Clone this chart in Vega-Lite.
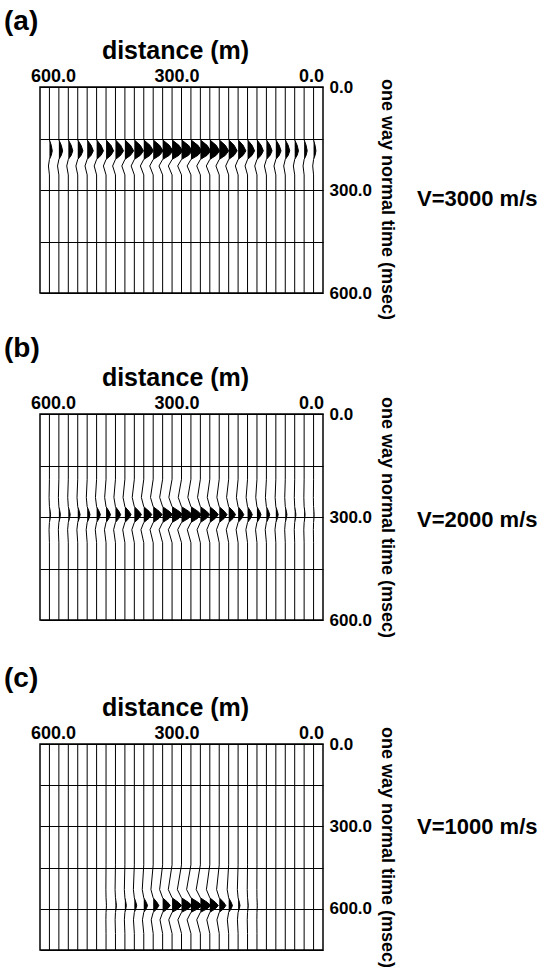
{
"$schema": "https://vega.github.io/schema/vega-lite/v6.json",
"padding": {"left": 3, "top": 7, "right": 5, "bottom": 3},
"background": "white",
"config": {
  "font": "Liberation Sans",
  "view": {"stroke": "black", "strokeWidth": 1.5},
  "axis": {"domain": false, "ticks": false, "grid": false, "labelFontWeight": "bold", "titleFontWeight": "bold", "labelColor": "black", "titleColor": "black", "labelFontSize": 18, "labelFont": "Liberation Sans", "titleFont": "Liberation Sans"},
  "title": {"fontWeight": "bold", "color": "black", "font": "Liberation Sans"}
},
"datasets": {
"a": [
{"d":20,"t":0,"x":20},{"d":20,"t":154,"x":20,"l":1},{"d":20,"t":170,"x":16.8,"l":1},{"d":20,"t":186,"x":15,"l":1},{"d":20,"t":199,"x":16.8,"l":1},{"d":20,"t":211,"x":20,"l":1},{"d":20,"t":230,"x":21.8},{"d":20,"t":256,"x":20},{"d":20,"t":600,"x":20},
{"d":40,"t":0,"x":40},{"d":40,"t":154,"x":40,"l":1},{"d":40,"t":170,"x":35.8,"l":1},{"d":40,"t":186,"x":33.5,"l":1},{"d":40,"t":199,"x":35.8,"l":1},{"d":40,"t":211,"x":40,"l":1},{"d":40,"t":230,"x":42.3},{"d":40,"t":256,"x":40},{"d":40,"t":600,"x":40},
{"d":60,"t":0,"x":60},{"d":60,"t":154,"x":60,"l":1},{"d":60,"t":170,"x":54.8,"l":1},{"d":60,"t":186,"x":52,"l":1},{"d":60,"t":199,"x":54.8,"l":1},{"d":60,"t":211,"x":60,"l":1},{"d":60,"t":230,"x":62.8},{"d":60,"t":256,"x":60},{"d":60,"t":600,"x":60},
{"d":80,"t":0,"x":80},{"d":80,"t":154,"x":80,"l":1},{"d":80,"t":170,"x":73.8,"l":1},{"d":80,"t":186,"x":70.5,"l":1},{"d":80,"t":199,"x":73.8,"l":1},{"d":80,"t":211,"x":80,"l":1},{"d":80,"t":230,"x":83.3},{"d":80,"t":256,"x":80},{"d":80,"t":600,"x":80},
{"d":100,"t":0,"x":100},{"d":100,"t":154,"x":100,"l":1},{"d":100,"t":170,"x":92.8,"l":1},{"d":100,"t":186,"x":89,"l":1},{"d":100,"t":199,"x":92.8,"l":1},{"d":100,"t":211,"x":100,"l":1},{"d":100,"t":230,"x":103.9},{"d":100,"t":256,"x":100},{"d":100,"t":600,"x":100},
{"d":120,"t":0,"x":120},{"d":120,"t":154,"x":120,"l":1},{"d":120,"t":170,"x":112.2,"l":1},{"d":120,"t":186,"x":108,"l":1},{"d":120,"t":199,"x":112.2,"l":1},{"d":120,"t":211,"x":120,"l":1},{"d":120,"t":230,"x":124.2},{"d":120,"t":256,"x":120},{"d":120,"t":600,"x":120},
{"d":140,"t":0,"x":140},{"d":140,"t":154,"x":140,"l":1},{"d":140,"t":170,"x":131.2,"l":1},{"d":140,"t":186,"x":126.5,"l":1},{"d":140,"t":199,"x":131.2,"l":1},{"d":140,"t":211,"x":140,"l":1},{"d":140,"t":230,"x":144.7},{"d":140,"t":256,"x":140},{"d":140,"t":600,"x":140},
{"d":160,"t":0,"x":160},{"d":160,"t":154,"x":160,"l":1},{"d":160,"t":170,"x":150.3,"l":1},{"d":160,"t":186,"x":145,"l":1},{"d":160,"t":199,"x":150.3,"l":1},{"d":160,"t":211,"x":160,"l":1},{"d":160,"t":230,"x":165.3},{"d":160,"t":256,"x":160},{"d":160,"t":600,"x":160},
{"d":180,"t":0,"x":180},{"d":180,"t":154,"x":180,"l":1},{"d":180,"t":170,"x":169.3,"l":1},{"d":180,"t":186,"x":163.5,"l":1},{"d":180,"t":199,"x":169.3,"l":1},{"d":180,"t":211,"x":180,"l":1},{"d":180,"t":230,"x":185.8},{"d":180,"t":256,"x":180},{"d":180,"t":600,"x":180},
{"d":200,"t":0,"x":200},{"d":200,"t":154,"x":200,"l":1},{"d":200,"t":170,"x":188.3,"l":1},{"d":200,"t":186,"x":182,"l":1},{"d":200,"t":199,"x":188.3,"l":1},{"d":200,"t":211,"x":200,"l":1},{"d":200,"t":230,"x":206.3},{"d":200,"t":256,"x":200},{"d":200,"t":600,"x":200},
{"d":220,"t":0,"x":220},{"d":220,"t":154,"x":220,"l":1},{"d":220,"t":170,"x":207,"l":1},{"d":220,"t":186,"x":200,"l":1},{"d":220,"t":199,"x":207,"l":1},{"d":220,"t":211,"x":220,"l":1},{"d":220,"t":230,"x":227},{"d":220,"t":256,"x":220},{"d":220,"t":600,"x":220},
{"d":240,"t":0,"x":240},{"d":240,"t":154,"x":240,"l":1},{"d":240,"t":170,"x":226.4,"l":1},{"d":240,"t":186,"x":219,"l":1},{"d":240,"t":199,"x":226.4,"l":1},{"d":240,"t":211,"x":240,"l":1},{"d":240,"t":230,"x":247.4},{"d":240,"t":256,"x":240},{"d":240,"t":600,"x":240},
{"d":260,"t":0,"x":260},{"d":260,"t":154,"x":260,"l":1},{"d":260,"t":170,"x":245.7,"l":1},{"d":260,"t":186,"x":238,"l":1},{"d":260,"t":199,"x":245.7,"l":1},{"d":260,"t":211,"x":260,"l":1},{"d":260,"t":230,"x":267.7},{"d":260,"t":256,"x":260},{"d":260,"t":600,"x":260},
{"d":280,"t":0,"x":280},{"d":280,"t":154,"x":280,"l":1},{"d":280,"t":170,"x":265.1,"l":1},{"d":280,"t":186,"x":257,"l":1},{"d":280,"t":199,"x":265.1,"l":1},{"d":280,"t":211,"x":280,"l":1},{"d":280,"t":230,"x":288.1},{"d":280,"t":256,"x":280},{"d":280,"t":600,"x":280},
{"d":300,"t":0,"x":300},{"d":300,"t":154,"x":300,"l":1},{"d":300,"t":170,"x":285.1,"l":1},{"d":300,"t":186,"x":277,"l":1},{"d":300,"t":199,"x":285.1,"l":1},{"d":300,"t":211,"x":300,"l":1},{"d":300,"t":230,"x":308.1},{"d":300,"t":256,"x":300},{"d":300,"t":600,"x":300},
{"d":320,"t":0,"x":320},{"d":320,"t":154,"x":320,"l":1},{"d":320,"t":170,"x":305.4,"l":1},{"d":320,"t":186,"x":297.5,"l":1},{"d":320,"t":199,"x":305.4,"l":1},{"d":320,"t":211,"x":320,"l":1},{"d":320,"t":230,"x":327.9},{"d":320,"t":256,"x":320},{"d":320,"t":600,"x":320},
{"d":340,"t":0,"x":340},{"d":340,"t":154,"x":340,"l":1},{"d":340,"t":170,"x":325.7,"l":1},{"d":340,"t":186,"x":318,"l":1},{"d":340,"t":199,"x":325.7,"l":1},{"d":340,"t":211,"x":340,"l":1},{"d":340,"t":230,"x":347.7},{"d":340,"t":256,"x":340},{"d":340,"t":600,"x":340},
{"d":360,"t":0,"x":360},{"d":360,"t":154,"x":360,"l":1},{"d":360,"t":170,"x":346.4,"l":1},{"d":360,"t":186,"x":339,"l":1},{"d":360,"t":199,"x":346.4,"l":1},{"d":360,"t":211,"x":360,"l":1},{"d":360,"t":230,"x":367.4},{"d":360,"t":256,"x":360},{"d":360,"t":600,"x":360},
{"d":380,"t":0,"x":380},{"d":380,"t":154,"x":380,"l":1},{"d":380,"t":170,"x":366.7,"l":1},{"d":380,"t":186,"x":359.5,"l":1},{"d":380,"t":199,"x":366.7,"l":1},{"d":380,"t":211,"x":380,"l":1},{"d":380,"t":230,"x":387.2},{"d":380,"t":256,"x":380},{"d":380,"t":600,"x":380},
{"d":400,"t":0,"x":400},{"d":400,"t":154,"x":400,"l":1},{"d":400,"t":170,"x":387.3,"l":1},{"d":400,"t":186,"x":380.5,"l":1},{"d":400,"t":199,"x":387.3,"l":1},{"d":400,"t":211,"x":400,"l":1},{"d":400,"t":230,"x":406.8},{"d":400,"t":256,"x":400},{"d":400,"t":600,"x":400},
{"d":420,"t":0,"x":420},{"d":420,"t":154,"x":420,"l":1},{"d":420,"t":170,"x":408,"l":1},{"d":420,"t":186,"x":401.5,"l":1},{"d":420,"t":199,"x":408,"l":1},{"d":420,"t":211,"x":420,"l":1},{"d":420,"t":230,"x":426.5},{"d":420,"t":256,"x":420},{"d":420,"t":600,"x":420},
{"d":440,"t":0,"x":440},{"d":440,"t":154,"x":440,"l":1},{"d":440,"t":170,"x":429,"l":1},{"d":440,"t":186,"x":423,"l":1},{"d":440,"t":199,"x":429,"l":1},{"d":440,"t":211,"x":440,"l":1},{"d":440,"t":230,"x":446},{"d":440,"t":256,"x":440},{"d":440,"t":600,"x":440},
{"d":460,"t":0,"x":460},{"d":460,"t":154,"x":460,"l":1},{"d":460,"t":170,"x":449.6,"l":1},{"d":460,"t":186,"x":444,"l":1},{"d":460,"t":199,"x":449.6,"l":1},{"d":460,"t":211,"x":460,"l":1},{"d":460,"t":230,"x":465.6},{"d":460,"t":256,"x":460},{"d":460,"t":600,"x":460},
{"d":480,"t":0,"x":480},{"d":480,"t":154,"x":480,"l":1},{"d":480,"t":170,"x":470.6,"l":1},{"d":480,"t":186,"x":465.5,"l":1},{"d":480,"t":199,"x":470.6,"l":1},{"d":480,"t":211,"x":480,"l":1},{"d":480,"t":230,"x":485.1},{"d":480,"t":256,"x":480},{"d":480,"t":600,"x":480},
{"d":500,"t":0,"x":500},{"d":500,"t":154,"x":500,"l":1},{"d":500,"t":170,"x":491.6,"l":1},{"d":500,"t":186,"x":487,"l":1},{"d":500,"t":199,"x":491.6,"l":1},{"d":500,"t":211,"x":500,"l":1},{"d":500,"t":230,"x":504.6},{"d":500,"t":256,"x":500},{"d":500,"t":600,"x":500},
{"d":520,"t":0,"x":520},{"d":520,"t":154,"x":520,"l":1},{"d":520,"t":170,"x":512.9,"l":1},{"d":520,"t":186,"x":509,"l":1},{"d":520,"t":199,"x":512.9,"l":1},{"d":520,"t":211,"x":520,"l":1},{"d":520,"t":230,"x":523.9},{"d":520,"t":256,"x":520},{"d":520,"t":600,"x":520},
{"d":540,"t":0,"x":540},{"d":540,"t":154,"x":540,"l":1},{"d":540,"t":170,"x":533.8,"l":1},{"d":540,"t":186,"x":530.5,"l":1},{"d":540,"t":199,"x":533.8,"l":1},{"d":540,"t":211,"x":540,"l":1},{"d":540,"t":230,"x":543.3},{"d":540,"t":256,"x":540},{"d":540,"t":600,"x":540},
{"d":560,"t":0,"x":560},{"d":560,"t":154,"x":560,"l":1},{"d":560,"t":170,"x":554.8,"l":1},{"d":560,"t":186,"x":552,"l":1},{"d":560,"t":199,"x":554.8,"l":1},{"d":560,"t":211,"x":560,"l":1},{"d":560,"t":230,"x":562.8},{"d":560,"t":256,"x":560},{"d":560,"t":600,"x":560},
{"d":580,"t":0,"x":580},{"d":580,"t":154,"x":580,"l":1},{"d":580,"t":170,"x":576.1,"l":1},{"d":580,"t":186,"x":574,"l":1},{"d":580,"t":199,"x":576.1,"l":1},{"d":580,"t":211,"x":580,"l":1},{"d":580,"t":230,"x":582.1},{"d":580,"t":256,"x":580},{"d":580,"t":600,"x":580}
],
"b": [
{"d":20,"t":0,"x":20},{"d":20,"t":190,"x":20},{"d":20,"t":243,"x":20.4},{"d":20,"t":270,"x":20,"l":1},{"d":20,"t":283,"x":19.2,"l":1},{"d":20,"t":293,"x":18.8,"l":1},{"d":20,"t":304,"x":19.2,"l":1},{"d":20,"t":316,"x":20,"l":1},{"d":20,"t":337,"x":20.4},{"d":20,"t":375,"x":20},{"d":20,"t":600,"x":20},
{"d":40,"t":0,"x":40},{"d":40,"t":190,"x":40},{"d":40,"t":243,"x":40.6},{"d":40,"t":270,"x":40,"l":1},{"d":40,"t":283,"x":38.7,"l":1},{"d":40,"t":293,"x":38,"l":1},{"d":40,"t":304,"x":38.7,"l":1},{"d":40,"t":316,"x":40,"l":1},{"d":40,"t":337,"x":40.7},{"d":40,"t":375,"x":40},{"d":40,"t":600,"x":40},
{"d":60,"t":0,"x":60},{"d":60,"t":190,"x":60},{"d":60,"t":243,"x":60.8},{"d":60,"t":270,"x":60,"l":1},{"d":60,"t":283,"x":58.4,"l":1},{"d":60,"t":293,"x":57.5,"l":1},{"d":60,"t":304,"x":58.4,"l":1},{"d":60,"t":316,"x":60,"l":1},{"d":60,"t":337,"x":60.9},{"d":60,"t":375,"x":60},{"d":60,"t":600,"x":60},
{"d":80,"t":0,"x":80},{"d":80,"t":190,"x":80},{"d":80,"t":243,"x":81.1},{"d":80,"t":270,"x":80,"l":1},{"d":80,"t":283,"x":77.7,"l":1},{"d":80,"t":293,"x":76.5,"l":1},{"d":80,"t":304,"x":77.7,"l":1},{"d":80,"t":316,"x":80,"l":1},{"d":80,"t":337,"x":81.2},{"d":80,"t":375,"x":80},{"d":80,"t":600,"x":80},
{"d":100,"t":0,"x":100},{"d":100,"t":190,"x":100},{"d":100,"t":243,"x":101.5},{"d":100,"t":270,"x":100,"l":1},{"d":100,"t":283,"x":96.8,"l":1},{"d":100,"t":293,"x":95,"l":1},{"d":100,"t":304,"x":96.8,"l":1},{"d":100,"t":316,"x":100,"l":1},{"d":100,"t":337,"x":101.8},{"d":100,"t":375,"x":100},{"d":100,"t":600,"x":100},
{"d":120,"t":0,"x":120},{"d":120,"t":190,"x":120},{"d":120,"t":243,"x":122.1},{"d":120,"t":270,"x":120,"l":1},{"d":120,"t":283,"x":115.5,"l":1},{"d":120,"t":293,"x":113,"l":1},{"d":120,"t":304,"x":115.5,"l":1},{"d":120,"t":316,"x":120,"l":1},{"d":120,"t":337,"x":122.5},{"d":120,"t":375,"x":120},{"d":120,"t":600,"x":120},
{"d":140,"t":0,"x":140},{"d":140,"t":190,"x":140},{"d":140,"t":243,"x":142.6},{"d":140,"t":270,"x":140,"l":1},{"d":140,"t":283,"x":134.5,"l":1},{"d":140,"t":293,"x":131.5,"l":1},{"d":140,"t":304,"x":134.5,"l":1},{"d":140,"t":316,"x":140,"l":1},{"d":140,"t":337,"x":143},{"d":140,"t":375,"x":140},{"d":140,"t":600,"x":140},
{"d":160,"t":0,"x":160},{"d":160,"t":190,"x":160},{"d":160,"t":243,"x":163},{"d":160,"t":270,"x":160,"l":1},{"d":160,"t":283,"x":153.5,"l":1},{"d":160,"t":293,"x":150,"l":1},{"d":160,"t":304,"x":153.5,"l":1},{"d":160,"t":316,"x":160,"l":1},{"d":160,"t":337,"x":163.5},{"d":160,"t":375,"x":160},{"d":160,"t":600,"x":160},
{"d":180,"t":0,"x":180},{"d":180,"t":190,"x":180},{"d":180,"t":243,"x":183.6},{"d":180,"t":270,"x":180,"l":1},{"d":180,"t":283,"x":172.2,"l":1},{"d":180,"t":293,"x":168,"l":1},{"d":180,"t":304,"x":172.2,"l":1},{"d":180,"t":316,"x":180,"l":1},{"d":180,"t":337,"x":184.2},{"d":180,"t":375,"x":180},{"d":180,"t":600,"x":180},
{"d":200,"t":0,"x":200},{"d":200,"t":190,"x":200},{"d":200,"t":243,"x":204.4},{"d":200,"t":270,"x":200,"l":1},{"d":200,"t":283,"x":190.6,"l":1},{"d":200,"t":293,"x":185.5,"l":1},{"d":200,"t":304,"x":190.6,"l":1},{"d":200,"t":316,"x":200,"l":1},{"d":200,"t":337,"x":205.1},{"d":200,"t":375,"x":200},{"d":200,"t":600,"x":200},
{"d":220,"t":0,"x":220},{"d":220,"t":190,"x":220},{"d":220,"t":243,"x":225},{"d":220,"t":270,"x":220,"l":1},{"d":220,"t":283,"x":209.3,"l":1},{"d":220,"t":293,"x":203.5,"l":1},{"d":220,"t":304,"x":209.3,"l":1},{"d":220,"t":316,"x":220,"l":1},{"d":220,"t":337,"x":225.8},{"d":220,"t":375,"x":220},{"d":220,"t":600,"x":220},
{"d":240,"t":0,"x":240},{"d":240,"t":190,"x":240},{"d":240,"t":243,"x":245.4},{"d":240,"t":270,"x":240,"l":1},{"d":240,"t":283,"x":228.3,"l":1},{"d":240,"t":293,"x":222,"l":1},{"d":240,"t":304,"x":228.3,"l":1},{"d":240,"t":316,"x":240,"l":1},{"d":240,"t":337,"x":246.3},{"d":240,"t":375,"x":240},{"d":240,"t":600,"x":240},
{"d":260,"t":0,"x":260},{"d":260,"t":190,"x":260},{"d":260,"t":243,"x":266},{"d":260,"t":270,"x":260,"l":1},{"d":260,"t":283,"x":247,"l":1},{"d":260,"t":293,"x":240,"l":1},{"d":260,"t":304,"x":247,"l":1},{"d":260,"t":316,"x":260,"l":1},{"d":260,"t":337,"x":267},{"d":260,"t":375,"x":260},{"d":260,"t":600,"x":260},
{"d":280,"t":0,"x":280},{"d":280,"t":190,"x":280},{"d":280,"t":243,"x":286.6},{"d":280,"t":270,"x":280,"l":1},{"d":280,"t":283,"x":265.7,"l":1},{"d":280,"t":293,"x":258,"l":1},{"d":280,"t":304,"x":265.7,"l":1},{"d":280,"t":316,"x":280,"l":1},{"d":280,"t":337,"x":287.7},{"d":280,"t":375,"x":280},{"d":280,"t":600,"x":280},
{"d":300,"t":0,"x":300},{"d":300,"t":190,"x":300},{"d":300,"t":243,"x":306.9},{"d":300,"t":270,"x":300,"l":1},{"d":300,"t":283,"x":285.1,"l":1},{"d":300,"t":293,"x":277,"l":1},{"d":300,"t":304,"x":285.1,"l":1},{"d":300,"t":316,"x":300,"l":1},{"d":300,"t":337,"x":308.1},{"d":300,"t":375,"x":300},{"d":300,"t":600,"x":300},
{"d":320,"t":0,"x":320},{"d":320,"t":190,"x":320},{"d":320,"t":243,"x":326.8},{"d":320,"t":270,"x":320,"l":1},{"d":320,"t":283,"x":305.4,"l":1},{"d":320,"t":293,"x":297.5,"l":1},{"d":320,"t":304,"x":305.4,"l":1},{"d":320,"t":316,"x":320,"l":1},{"d":320,"t":337,"x":327.9},{"d":320,"t":375,"x":320},{"d":320,"t":600,"x":320},
{"d":340,"t":0,"x":340},{"d":340,"t":190,"x":340},{"d":340,"t":243,"x":346.3},{"d":340,"t":270,"x":340,"l":1},{"d":340,"t":283,"x":326.4,"l":1},{"d":340,"t":293,"x":319,"l":1},{"d":340,"t":304,"x":326.4,"l":1},{"d":340,"t":316,"x":340,"l":1},{"d":340,"t":337,"x":347.4},{"d":340,"t":375,"x":340},{"d":340,"t":600,"x":340},
{"d":360,"t":0,"x":360},{"d":360,"t":190,"x":360},{"d":360,"t":243,"x":365.7},{"d":360,"t":270,"x":360,"l":1},{"d":360,"t":283,"x":347.7,"l":1},{"d":360,"t":293,"x":341,"l":1},{"d":360,"t":304,"x":347.7,"l":1},{"d":360,"t":316,"x":360,"l":1},{"d":360,"t":337,"x":366.7},{"d":360,"t":375,"x":360},{"d":360,"t":600,"x":360},
{"d":380,"t":0,"x":380},{"d":380,"t":190,"x":380},{"d":380,"t":243,"x":385.1},{"d":380,"t":270,"x":380,"l":1},{"d":380,"t":283,"x":369,"l":1},{"d":380,"t":293,"x":363,"l":1},{"d":380,"t":304,"x":369,"l":1},{"d":380,"t":316,"x":380,"l":1},{"d":380,"t":337,"x":386},{"d":380,"t":375,"x":380},{"d":380,"t":600,"x":380},
{"d":400,"t":0,"x":400},{"d":400,"t":190,"x":400},{"d":400,"t":243,"x":404.5},{"d":400,"t":270,"x":400,"l":1},{"d":400,"t":283,"x":390.3,"l":1},{"d":400,"t":293,"x":385,"l":1},{"d":400,"t":304,"x":390.3,"l":1},{"d":400,"t":316,"x":400,"l":1},{"d":400,"t":337,"x":405.3},{"d":400,"t":375,"x":400},{"d":400,"t":600,"x":400},
{"d":420,"t":0,"x":420},{"d":420,"t":190,"x":420},{"d":420,"t":243,"x":423.9},{"d":420,"t":270,"x":420,"l":1},{"d":420,"t":283,"x":411.6,"l":1},{"d":420,"t":293,"x":407,"l":1},{"d":420,"t":304,"x":411.6,"l":1},{"d":420,"t":316,"x":420,"l":1},{"d":420,"t":337,"x":424.6},{"d":420,"t":375,"x":420},{"d":420,"t":600,"x":420},
{"d":440,"t":0,"x":440},{"d":440,"t":190,"x":440},{"d":440,"t":243,"x":443.3},{"d":440,"t":270,"x":440,"l":1},{"d":440,"t":283,"x":432.9,"l":1},{"d":440,"t":293,"x":429,"l":1},{"d":440,"t":304,"x":432.9,"l":1},{"d":440,"t":316,"x":440,"l":1},{"d":440,"t":337,"x":443.9},{"d":440,"t":375,"x":440},{"d":440,"t":600,"x":440},
{"d":460,"t":0,"x":460},{"d":460,"t":190,"x":460},{"d":460,"t":243,"x":462.9},{"d":460,"t":270,"x":460,"l":1},{"d":460,"t":283,"x":453.8,"l":1},{"d":460,"t":293,"x":450.5,"l":1},{"d":460,"t":304,"x":453.8,"l":1},{"d":460,"t":316,"x":460,"l":1},{"d":460,"t":337,"x":463.3},{"d":460,"t":375,"x":460},{"d":460,"t":600,"x":460},
{"d":480,"t":0,"x":480},{"d":480,"t":190,"x":480},{"d":480,"t":243,"x":482.4},{"d":480,"t":270,"x":480,"l":1},{"d":480,"t":283,"x":474.8,"l":1},{"d":480,"t":293,"x":472,"l":1},{"d":480,"t":304,"x":474.8,"l":1},{"d":480,"t":316,"x":480,"l":1},{"d":480,"t":337,"x":482.8},{"d":480,"t":375,"x":480},{"d":480,"t":600,"x":480},
{"d":500,"t":0,"x":500},{"d":500,"t":190,"x":500},{"d":500,"t":243,"x":501.8},{"d":500,"t":270,"x":500,"l":1},{"d":500,"t":283,"x":496.1,"l":1},{"d":500,"t":293,"x":494,"l":1},{"d":500,"t":304,"x":496.1,"l":1},{"d":500,"t":316,"x":500,"l":1},{"d":500,"t":337,"x":502.1},{"d":500,"t":375,"x":500},{"d":500,"t":600,"x":500},
{"d":520,"t":0,"x":520},{"d":520,"t":190,"x":520},{"d":520,"t":243,"x":521.5},{"d":520,"t":270,"x":520,"l":1},{"d":520,"t":283,"x":516.8,"l":1},{"d":520,"t":293,"x":515,"l":1},{"d":520,"t":304,"x":516.8,"l":1},{"d":520,"t":316,"x":520,"l":1},{"d":520,"t":337,"x":521.8},{"d":520,"t":375,"x":520},{"d":520,"t":600,"x":520},
{"d":540,"t":0,"x":540},{"d":540,"t":190,"x":540},{"d":540,"t":243,"x":541.2},{"d":540,"t":270,"x":540,"l":1},{"d":540,"t":283,"x":537.4,"l":1},{"d":540,"t":293,"x":536,"l":1},{"d":540,"t":304,"x":537.4,"l":1},{"d":540,"t":316,"x":540,"l":1},{"d":540,"t":337,"x":541.4},{"d":540,"t":375,"x":540},{"d":540,"t":600,"x":540},
{"d":560,"t":0,"x":560},{"d":560,"t":190,"x":560},{"d":560,"t":243,"x":561},{"d":560,"t":270,"x":560,"l":1},{"d":560,"t":283,"x":557.9,"l":1},{"d":560,"t":293,"x":556.8,"l":1},{"d":560,"t":304,"x":557.9,"l":1},{"d":560,"t":316,"x":560,"l":1},{"d":560,"t":337,"x":561.1},{"d":560,"t":375,"x":560},{"d":560,"t":600,"x":560},
{"d":580,"t":0,"x":580},{"d":580,"t":190,"x":580},{"d":580,"t":243,"x":580.7},{"d":580,"t":270,"x":580,"l":1},{"d":580,"t":283,"x":578.4,"l":1},{"d":580,"t":293,"x":577.6,"l":1},{"d":580,"t":304,"x":578.4,"l":1},{"d":580,"t":316,"x":580,"l":1},{"d":580,"t":337,"x":580.8},{"d":580,"t":375,"x":580},{"d":580,"t":600,"x":580}
],
"c": [
{"d":20,"t":0,"x":20},{"d":20,"t":750,"x":20},
{"d":40,"t":0,"x":40},{"d":40,"t":750,"x":40},
{"d":60,"t":0,"x":60},{"d":60,"t":750,"x":60},
{"d":80,"t":0,"x":80},{"d":80,"t":750,"x":80},
{"d":100,"t":0,"x":100},{"d":100,"t":750,"x":100},
{"d":120,"t":0,"x":120},{"d":120,"t":750,"x":120},
{"d":140,"t":0,"x":140},{"d":140,"t":440,"x":140},{"d":140,"t":530,"x":140.2},{"d":140,"t":560,"x":140,"l":1},{"d":140,"t":576,"x":139.6,"l":1},{"d":140,"t":588,"x":139.4,"l":1},{"d":140,"t":600,"x":139.6,"l":1},{"d":140,"t":613,"x":140,"l":1},{"d":140,"t":640,"x":140.2},{"d":140,"t":690,"x":140},{"d":140,"t":750,"x":140},
{"d":160,"t":0,"x":160},{"d":160,"t":440,"x":160},{"d":160,"t":530,"x":160.6},{"d":160,"t":560,"x":160,"l":1},{"d":160,"t":576,"x":159,"l":1},{"d":160,"t":588,"x":158.4,"l":1},{"d":160,"t":600,"x":159,"l":1},{"d":160,"t":613,"x":160,"l":1},{"d":160,"t":640,"x":160.6},{"d":160,"t":690,"x":160},{"d":160,"t":750,"x":160},
{"d":180,"t":0,"x":180},{"d":180,"t":440,"x":180},{"d":180,"t":530,"x":181.6},{"d":180,"t":560,"x":180,"l":1},{"d":180,"t":576,"x":177.4,"l":1},{"d":180,"t":588,"x":176,"l":1},{"d":180,"t":600,"x":177.4,"l":1},{"d":180,"t":613,"x":180,"l":1},{"d":180,"t":640,"x":181.4},{"d":180,"t":690,"x":180},{"d":180,"t":750,"x":180},
{"d":200,"t":0,"x":200},{"d":200,"t":440,"x":200},{"d":200,"t":530,"x":203.2},{"d":200,"t":560,"x":200,"l":1},{"d":200,"t":576,"x":194.8,"l":1},{"d":200,"t":588,"x":192,"l":1},{"d":200,"t":600,"x":194.8,"l":1},{"d":200,"t":613,"x":200,"l":1},{"d":200,"t":640,"x":202.8},{"d":200,"t":690,"x":200},{"d":200,"t":750,"x":200},
{"d":220,"t":0,"x":220},{"d":220,"t":440,"x":220},{"d":220,"t":530,"x":225.6},{"d":220,"t":560,"x":220,"l":1},{"d":220,"t":576,"x":210.9,"l":1},{"d":220,"t":588,"x":206,"l":1},{"d":220,"t":600,"x":210.9,"l":1},{"d":220,"t":613,"x":220,"l":1},{"d":220,"t":640,"x":224.9},{"d":220,"t":690,"x":220},{"d":220,"t":750,"x":220},
{"d":240,"t":0,"x":240},{"d":240,"t":440,"x":240},{"d":240,"t":530,"x":247.2},{"d":240,"t":560,"x":240,"l":1},{"d":240,"t":576,"x":228.3,"l":1},{"d":240,"t":588,"x":222,"l":1},{"d":240,"t":600,"x":228.3,"l":1},{"d":240,"t":613,"x":240,"l":1},{"d":240,"t":640,"x":246.3},{"d":240,"t":690,"x":240},{"d":240,"t":750,"x":240},
{"d":260,"t":0,"x":260},{"d":260,"t":440,"x":260},{"d":260,"t":530,"x":268.8},{"d":260,"t":560,"x":260,"l":1},{"d":260,"t":576,"x":245.7,"l":1},{"d":260,"t":588,"x":238,"l":1},{"d":260,"t":600,"x":245.7,"l":1},{"d":260,"t":613,"x":260,"l":1},{"d":260,"t":640,"x":267.7},{"d":260,"t":690,"x":260},{"d":260,"t":750,"x":260},
{"d":280,"t":0,"x":280},{"d":280,"t":440,"x":280},{"d":280,"t":530,"x":289.2},{"d":280,"t":560,"x":280,"l":1},{"d":280,"t":576,"x":265.1,"l":1},{"d":280,"t":588,"x":257,"l":1},{"d":280,"t":600,"x":265.1,"l":1},{"d":280,"t":613,"x":280,"l":1},{"d":280,"t":640,"x":288.1},{"d":280,"t":690,"x":280},{"d":280,"t":750,"x":280},
{"d":300,"t":0,"x":300},{"d":300,"t":440,"x":300},{"d":300,"t":530,"x":308.8},{"d":300,"t":560,"x":300,"l":1},{"d":300,"t":576,"x":285.7,"l":1},{"d":300,"t":588,"x":278,"l":1},{"d":300,"t":600,"x":285.7,"l":1},{"d":300,"t":613,"x":300,"l":1},{"d":300,"t":640,"x":307.7},{"d":300,"t":690,"x":300},{"d":300,"t":750,"x":300},
{"d":320,"t":0,"x":320},{"d":320,"t":440,"x":320},{"d":320,"t":530,"x":328},{"d":320,"t":560,"x":320,"l":1},{"d":320,"t":576,"x":307,"l":1},{"d":320,"t":588,"x":300,"l":1},{"d":320,"t":600,"x":307,"l":1},{"d":320,"t":613,"x":320,"l":1},{"d":320,"t":640,"x":327},{"d":320,"t":690,"x":320},{"d":320,"t":750,"x":320},
{"d":340,"t":0,"x":340},{"d":340,"t":440,"x":340},{"d":340,"t":530,"x":346.4},{"d":340,"t":560,"x":340,"l":1},{"d":340,"t":576,"x":329.6,"l":1},{"d":340,"t":588,"x":324,"l":1},{"d":340,"t":600,"x":329.6,"l":1},{"d":340,"t":613,"x":340,"l":1},{"d":340,"t":640,"x":345.6},{"d":340,"t":690,"x":340},{"d":340,"t":750,"x":340},
{"d":360,"t":0,"x":360},{"d":360,"t":440,"x":360},{"d":360,"t":530,"x":364.8},{"d":360,"t":560,"x":360,"l":1},{"d":360,"t":576,"x":352.2,"l":1},{"d":360,"t":588,"x":348,"l":1},{"d":360,"t":600,"x":352.2,"l":1},{"d":360,"t":613,"x":360,"l":1},{"d":360,"t":640,"x":364.2},{"d":360,"t":690,"x":360},{"d":360,"t":750,"x":360},
{"d":380,"t":0,"x":380},{"d":380,"t":440,"x":380},{"d":380,"t":530,"x":383.2},{"d":380,"t":560,"x":380,"l":1},{"d":380,"t":576,"x":374.8,"l":1},{"d":380,"t":588,"x":372,"l":1},{"d":380,"t":600,"x":374.8,"l":1},{"d":380,"t":613,"x":380,"l":1},{"d":380,"t":640,"x":382.8},{"d":380,"t":690,"x":380},{"d":380,"t":750,"x":380},
{"d":400,"t":0,"x":400},{"d":400,"t":440,"x":400},{"d":400,"t":530,"x":402},{"d":400,"t":560,"x":400,"l":1},{"d":400,"t":576,"x":396.8,"l":1},{"d":400,"t":588,"x":395,"l":1},{"d":400,"t":600,"x":396.8,"l":1},{"d":400,"t":613,"x":400,"l":1},{"d":400,"t":640,"x":401.8},{"d":400,"t":690,"x":400},{"d":400,"t":750,"x":400},
{"d":420,"t":0,"x":420},{"d":420,"t":440,"x":420},{"d":420,"t":530,"x":421.2},{"d":420,"t":560,"x":420,"l":1},{"d":420,"t":576,"x":418,"l":1},{"d":420,"t":588,"x":417,"l":1},{"d":420,"t":600,"x":418,"l":1},{"d":420,"t":613,"x":420,"l":1},{"d":420,"t":640,"x":421.1},{"d":420,"t":690,"x":420},{"d":420,"t":750,"x":420},
{"d":440,"t":0,"x":440},{"d":440,"t":440,"x":440},{"d":440,"t":530,"x":440.8},{"d":440,"t":560,"x":440,"l":1},{"d":440,"t":576,"x":438.7,"l":1},{"d":440,"t":588,"x":438,"l":1},{"d":440,"t":600,"x":438.7,"l":1},{"d":440,"t":613,"x":440,"l":1},{"d":440,"t":640,"x":440.7},{"d":440,"t":690,"x":440},{"d":440,"t":750,"x":440},
{"d":460,"t":0,"x":460},{"d":460,"t":440,"x":460},{"d":460,"t":530,"x":460.3},{"d":460,"t":560,"x":460,"l":1},{"d":460,"t":576,"x":459.5,"l":1},{"d":460,"t":588,"x":459.2,"l":1},{"d":460,"t":600,"x":459.5,"l":1},{"d":460,"t":613,"x":460,"l":1},{"d":460,"t":640,"x":460.3},{"d":460,"t":690,"x":460},{"d":460,"t":750,"x":460},
{"d":480,"t":0,"x":480},{"d":480,"t":750,"x":480},
{"d":500,"t":0,"x":500},{"d":500,"t":750,"x":500},
{"d":520,"t":0,"x":520},{"d":520,"t":750,"x":520},
{"d":540,"t":0,"x":540},{"d":540,"t":750,"x":540},
{"d":560,"t":0,"x":560},{"d":560,"t":750,"x":560},
{"d":580,"t":0,"x":580},{"d":580,"t":750,"x":580}
]
},
"spacing": 25,
"vconcat": [
{"spacing": 13, "vconcat": [
{"spacing": 20, "hconcat": [
{"title": {"text": "(a)", "anchor": "start", "frame": "group", "dx": -36, "fontSize": 28, "offset": 2},
 "width": 283, "height": 206, "data": {"name": "a"},
 "encoding": {
  "y": {"field": "t", "type": "quantitative", "scale": {"domain": [0, 600], "reverse": true, "nice": false, "zero": false},
        "axis": {"orient": "right", "values": [0, 150, 300, 450, 600], "grid": true, "gridColor": "black", "gridOpacity": 1, "gridWidth": 1, "labelExpr": "datum.value % 300 == 0 ? format(datum.value, '.1f') : ''", "labelPadding": 6, "labelFlush": false, "labelBaseline": "middle", "labelFontSize": 17, "title": "one way normal time (msec)", "titleFontSize": 18, "titlePadding": 6, "titleY": 112}},
  "x": {"field": "x", "type": "quantitative", "stack": null, "scale": {"domain": [600, 0], "nice": false, "zero": false},
        "axis": {"orient": "top", "values": [600, 300, 0], "format": ".1f", "labelPadding": 2, "labelFlush": false, "labelOffset": {"expr": "datum.value == 600 ? 13 : datum.value == 0 ? -12 : -5"}, "title": "distance (m)", "titleFontSize": 25, "titlePadding": 4, "titleX": 135}},
  "detail": {"field": "d", "type": "quantitative"}
 },
 "layer": [
  {"transform": [{"filter": "datum.l == 1"}], "mark": {"type": "area", "orient": "horizontal", "color": "black", "opacity": 1}, "encoding": {"x2": {"field": "d"}}},
  {"mark": {"type": "line", "color": "black", "strokeWidth": 1}, "encoding": {"order": {"field": "t", "type": "quantitative"}}}
 ]
},
{"width": 120, "height": 206, "view": {"stroke": null},
 "data": {"values": [{"v": "V=3000 m/s", "t": 325, "p": 0}]},
 "mark": {"type": "text", "align": "left", "baseline": "middle", "fontSize": 22, "fontWeight": "bold", "color": "black"},
 "encoding": {"text": {"field": "v"}, "x": {"field": "p", "type": "quantitative", "scale": {"domain": [0, 1]}, "axis": null}, "y": {"field": "t", "type": "quantitative", "scale": {"domain": [0, 600], "reverse": true}, "axis": null}}
}
]},
{"spacing": 20, "hconcat": [
{"title": {"text": "(b)", "anchor": "start", "frame": "group", "dx": -36, "fontSize": 28, "offset": 2},
 "width": 283, "height": 206, "data": {"name": "b"},
 "encoding": {
  "y": {"field": "t", "type": "quantitative", "scale": {"domain": [0, 600], "reverse": true, "nice": false, "zero": false},
        "axis": {"orient": "right", "values": [0, 150, 300, 450, 600], "grid": true, "gridColor": "black", "gridOpacity": 1, "gridWidth": 1, "labelExpr": "datum.value % 300 == 0 ? format(datum.value, '.1f') : ''", "labelPadding": 6, "labelFlush": false, "labelBaseline": "middle", "labelFontSize": 17, "title": "one way normal time (msec)", "titleFontSize": 18, "titlePadding": 6}},
  "x": {"field": "x", "type": "quantitative", "stack": null, "scale": {"domain": [600, 0], "nice": false, "zero": false},
        "axis": {"orient": "top", "values": [600, 300, 0], "format": ".1f", "labelPadding": 2, "labelFlush": false, "labelOffset": {"expr": "datum.value == 600 ? 13 : datum.value == 0 ? -12 : -5"}, "title": "distance (m)", "titleFontSize": 25, "titlePadding": 4, "titleX": 135}},
  "detail": {"field": "d", "type": "quantitative"}
 },
 "layer": [
  {"transform": [{"filter": "datum.l == 1"}], "mark": {"type": "area", "orient": "horizontal", "color": "black", "opacity": 1}, "encoding": {"x2": {"field": "d"}}},
  {"mark": {"type": "line", "color": "black", "strokeWidth": 1}, "encoding": {"order": {"field": "t", "type": "quantitative"}}}
 ]
},
{"width": 120, "height": 206, "view": {"stroke": null},
 "data": {"values": [{"v": "V=2000 m/s", "t": 308, "p": 0}]},
 "mark": {"type": "text", "align": "left", "baseline": "middle", "fontSize": 22, "fontWeight": "bold", "color": "black"},
 "encoding": {"text": {"field": "v"}, "x": {"field": "p", "type": "quantitative", "scale": {"domain": [0, 1]}, "axis": null}, "y": {"field": "t", "type": "quantitative", "scale": {"domain": [0, 600], "reverse": true}, "axis": null}}
}
]}
]},
{"spacing": 20, "hconcat": [
{"title": {"text": "(c)", "anchor": "start", "frame": "group", "dx": -36, "fontSize": 28, "offset": 2},
 "width": 283, "height": 206, "data": {"name": "c"},
 "encoding": {
  "y": {"field": "t", "type": "quantitative", "scale": {"domain": [0, 750], "reverse": true, "nice": false, "zero": false},
        "axis": {"orient": "right", "values": [0, 150, 300, 450, 600, 750], "grid": true, "gridColor": "black", "gridOpacity": 1, "gridWidth": 1, "labelExpr": "datum.value % 300 == 0 ? format(datum.value, '.1f') : ''", "labelPadding": 6, "labelFlush": false, "labelBaseline": "middle", "labelFontSize": 17, "title": "one way normal time (msec)", "titleFontSize": 18, "titlePadding": 6}},
  "x": {"field": "x", "type": "quantitative", "stack": null, "scale": {"domain": [600, 0], "nice": false, "zero": false},
        "axis": {"orient": "top", "values": [600, 300, 0], "format": ".1f", "labelPadding": 2, "labelFlush": false, "labelOffset": {"expr": "datum.value == 600 ? 13 : datum.value == 0 ? -12 : -5"}, "title": "distance (m)", "titleFontSize": 25, "titlePadding": 4, "titleX": 135}},
  "detail": {"field": "d", "type": "quantitative"}
 },
 "layer": [
  {"transform": [{"filter": "datum.l == 1"}], "mark": {"type": "area", "orient": "horizontal", "color": "black", "opacity": 1}, "encoding": {"x2": {"field": "d"}}},
  {"mark": {"type": "line", "color": "black", "strokeWidth": 1}, "encoding": {"order": {"field": "t", "type": "quantitative"}}}
 ]
},
{"width": 120, "height": 206, "view": {"stroke": null},
 "data": {"values": [{"v": "V=1000 m/s", "t": 302, "p": 0}]},
 "mark": {"type": "text", "align": "left", "baseline": "middle", "fontSize": 22, "fontWeight": "bold", "color": "black"},
 "encoding": {"text": {"field": "v"}, "x": {"field": "p", "type": "quantitative", "scale": {"domain": [0, 1]}, "axis": null}, "y": {"field": "t", "type": "quantitative", "scale": {"domain": [0, 750], "reverse": true}, "axis": null}}
}
]}
]
}
